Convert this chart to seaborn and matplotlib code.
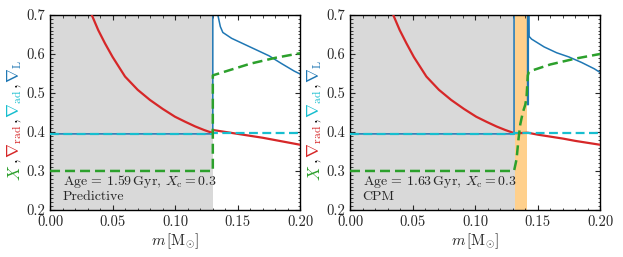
import numpy as np
import pandas as pd
import matplotlib
matplotlib.use("Agg")
import matplotlib.pyplot as plt
import seaborn as sns
from matplotlib.ticker import MultipleLocator

# ====================
# DONNEES
# ====================

# Panneau gauche : Predictive
g_rad_m = [0.0333, 0.0385, 0.0439, 0.050, 0.0599, 0.070, 0.0798, 0.090, 0.0998,
           0.108, 0.116, 0.123, 0.1300, 0.130, 0.14, 0.15, 0.16, 0.17, 0.18, 0.19, 0.20]
g_rad_v = [0.700, 0.661, 0.627, 0.592, 0.542, 0.508, 0.482, 0.459, 0.439,
           0.426, 0.414, 0.405, 0.397, 0.405, 0.400, 0.395, 0.390, 0.385, 0.379, 0.373, 0.367]
g_ad_m = [0.0, 0.13, 0.13, 0.20]
g_ad_v = [0.395, 0.395, 0.397, 0.397]
g_L_m = [0.0, 0.13, 0.13, 0.1335, 0.134, 0.136, 0.138, 0.145, 0.155, 0.165, 0.175, 0.185, 0.195, 0.20]
g_L_v = [0.395, 0.395, 0.75, 0.75, 0.70, 0.67, 0.655, 0.64, 0.625, 0.61, 0.595, 0.575, 0.556, 0.548]
g_X_m = [0.0, 0.13, 0.13, 0.145, 0.16, 0.18, 0.20]
g_X_v = [0.30, 0.30, 0.545, 0.56, 0.575, 0.59, 0.602]
g_conv = (0.0, 0.13)

# Panneau droit : CPM
d_rad_m = [0.0345, 0.0397, 0.0451, 0.051, 0.0610, 0.071, 0.0808, 0.091, 0.1008,
           0.109, 0.117, 0.124, 0.131, 0.136, 0.142, 0.15, 0.16, 0.17, 0.18, 0.19, 0.20]
d_rad_v = [0.700, 0.661, 0.627, 0.592, 0.542, 0.508, 0.482, 0.459, 0.439,
           0.426, 0.414, 0.405, 0.397, 0.397, 0.398, 0.393, 0.388, 0.383, 0.377, 0.372, 0.367]
d_ad_m = [0.0, 0.131, 0.131, 0.20]
d_ad_v = [0.395, 0.395, 0.397, 0.397]
d_L_m = [0.0, 0.131, 0.131, 0.1418, 0.1418, 0.1424, 0.1424, 0.1428, 0.143, 0.145,
         0.15, 0.155, 0.165, 0.175, 0.185, 0.195, 0.20]
d_L_v = [0.395, 0.395, 0.75, 0.75, 0.47, 0.47, 0.75, 0.75, 0.645, 0.638,
         0.628, 0.618, 0.603, 0.592, 0.578, 0.562, 0.552]
d_X_m = [0.0, 0.131, 0.133, 0.1345, 0.136, 0.138, 0.140, 0.141, 0.142, 0.143, 0.16, 0.18, 0.20]
d_X_v = [0.30, 0.30, 0.33, 0.38, 0.42, 0.45, 0.47, 0.49, 0.545, 0.555, 0.573, 0.588, 0.60]
d_conv = (0.0, 0.1315)
d_band = (0.1315, 0.1415)

panneaux = [
    dict(rad=(g_rad_m, g_rad_v), ad=(g_ad_m, g_ad_v), L=(g_L_m, g_L_v), X=(g_X_m, g_X_v),
         conv=g_conv, band=None, age="1.59", nom="Predictive"),
    dict(rad=(d_rad_m, d_rad_v), ad=(d_ad_m, d_ad_v), L=(d_L_m, d_L_v), X=(d_X_m, d_X_v),
         conv=d_conv, band=d_band, age="1.63", nom="CPM"),
]

C_X = "#2ca02c"
C_RAD = "#d62728"
C_AD = "#17becf"
C_L = "#1f77b4"

# ====================
# STYLE
# ====================
sns.set_style("ticks")
plt.rcParams.update({
    "font.family": "serif",
    "font.serif": ["cmr10", "DejaVu Serif"],
    "mathtext.fontset": "cm",
    "axes.formatter.use_mathtext": True,
    "axes.unicode_minus": False,
    "xtick.direction": "in",
    "ytick.direction": "in",
    "xtick.top": True,
    "ytick.right": True,
    "axes.linewidth": 1.0,
    "axes.edgecolor": "black",
})

fig = plt.figure(figsize=(6.23, 2.57), dpi=100)
ax_l = fig.add_axes([0.0803, 0.183, 0.402, 0.759])
ax_r = fig.add_axes([0.5618, 0.183, 0.402, 0.759])


def tracer(ax, p):
    ax.axvspan(*p["conv"], color="#d9d9d9", lw=0, zorder=0)
    if p["band"] is not None:
        ax.axvspan(*p["band"], color="#ffd08c", lw=0, zorder=0)
    df = lambda t: pd.DataFrame({"m": t[0], "v": t[1]})
    sns.lineplot(data=df(p["rad"]), x="m", y="v", sort=False, estimator=None,
                 color=C_RAD, lw=1.6, ax=ax, zorder=3)
    sns.lineplot(data=df(p["L"]), x="m", y="v", sort=False, estimator=None,
                 color=C_L, lw=1.1, ax=ax, zorder=2)
    sns.lineplot(data=df(p["ad"]), x="m", y="v", sort=False, estimator=None,
                 color=C_AD, lw=1.6, linestyle=(0, (4, 2)), ax=ax, zorder=4)
    sns.lineplot(data=df(p["X"]), x="m", y="v", sort=False, estimator=None,
                 color=C_X, lw=1.8, linestyle=(0, (4, 2)), ax=ax, zorder=5)

    ax.set_xlim(0, 0.2)
    ax.set_ylim(0.2, 0.7)
    ax.xaxis.set_major_locator(MultipleLocator(0.05))
    ax.xaxis.set_minor_locator(MultipleLocator(0.01))
    ax.yaxis.set_major_locator(MultipleLocator(0.1))
    ax.yaxis.set_minor_locator(MultipleLocator(0.01))
    ax.xaxis.set_major_formatter(plt.FuncFormatter(lambda v, _: f"{v:.2f}"))
    ax.yaxis.set_major_formatter(plt.FuncFormatter(lambda v, _: f"{v:.1f}"))
    ax.tick_params(which="major", length=3.5, width=0.8, labelsize=10.5)
    ax.tick_params(which="minor", length=1.8, width=0.6)
    ax.set_xlabel(r"$m\,[\mathrm{M}_{\odot}]$", fontsize=11, labelpad=2)
    ax.set_ylabel("")

    ax.text(0.05, 0.145, rf"Age$\,=\,${p['age']}$\,$Gyr, $X_{{\rm c}}=0.3$",
            transform=ax.transAxes, fontsize=10, ha="left", va="center")
    ax.text(0.05, 0.065, p["nom"], transform=ax.transAxes, fontsize=10,
            ha="left", va="center")


for ax, p in zip([ax_l, ax_r], panneaux):
    tracer(ax, p)

# label Y multicolore, morceau par morceau
morceaux = [(r"$X$", C_X), (r"$,$", "black"), (r"$\nabla_{\rm rad}$", C_RAD),
            (r"$,$", "black"), (r"$\nabla_{\rm ad}$", C_AD), (r"$,$", "black"),
            (r"$\nabla_{\rm L}$", C_L)]
ecart = 0.003
fig.canvas.draw()
renderer = fig.canvas.get_renderer()
for ax in [ax_l, ax_r]:
    textes = []
    for s, c in morceaux:
        t = ax.text(-0.14, 0, s, color=c, rotation=90, fontsize=12,
                    transform=ax.transAxes, ha="center", va="bottom")
        textes.append(t)
    hauteurs = []
    for t in textes:
        bb = t.get_window_extent(renderer)
        hauteurs.append(bb.height / ax.bbox.height)
    total = sum(hauteurs) + ecart * (len(textes) - 1)
    y = 0.46 - total / 2
    for t, h in zip(textes, hauteurs):
        t.set_position((-0.14, y))
        y += h + ecart

fig.savefig("out.png", dpi=100)
